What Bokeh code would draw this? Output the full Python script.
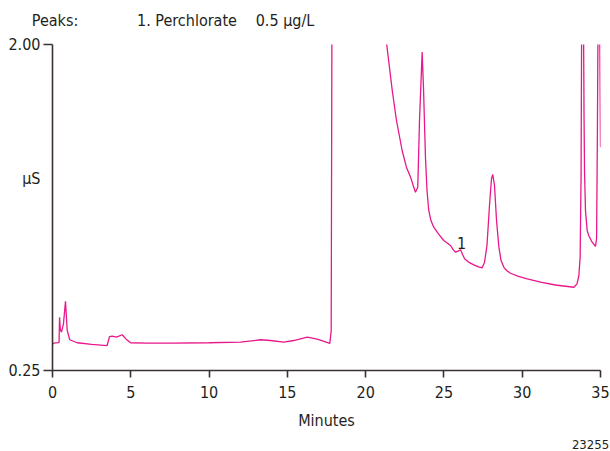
from bokeh.plotting import figure
from bokeh.models import FixedTicker, Range1d, LinearAxis
from bokeh.core.properties import value
from bokeh.embed import file_html
from bokeh.resources import INLINE

FONT = "'Liberation Sans Narrow', 'DejaVu Sans Condensed', 'Roboto Condensed', 'Arial Narrow', Roboto, sans-serif"

# Chromatogram trace (minutes, µS)
minutes = [0.00, 0.08, 0.36, 0.42, 0.45, 0.50, 0.575, 0.70, 0.83, 0.94, 1.10, 1.58,
           2.50, 3.49, 3.64, 3.81, 4.09, 4.45, 4.73, 4.98, 6.00, 7.73, 10.0, 12.01,
           13.29, 13.92, 14.77, 15.41, 16.27, 16.91, 17.71, 17.80, 17.86, 19.5, 21.25,
           21.36, 21.70, 21.97, 22.33, 22.61, 22.87, 23.06, 23.18, 23.33, 23.44, 23.61,
           23.70, 23.82, 23.92, 24.03, 24.17, 24.35, 24.65, 24.99, 25.42, 25.58, 25.74,
           25.90, 26.06, 26.19, 26.32, 26.57, 26.91, 27.21, 27.44, 27.59, 27.75, 27.91,
           28.04, 28.12, 28.23, 28.36, 28.51, 28.65, 28.83, 29.00, 29.25, 29.76, 30.32,
           31.17, 32.12, 33.30, 33.50, 33.62, 33.70, 33.76, 33.80, 33.86, 33.91, 33.95,
           33.98, 34.04, 34.15, 34.25, 34.42, 34.68, 34.75, 34.80, 34.84, 34.90, 34.95,
           35.00]
signal = [0.390, 0.397, 0.400, 0.402, 0.536, 0.470, 0.456, 0.500, 0.622, 0.465, 0.415, 0.399,
          0.390, 0.384, 0.432, 0.434, 0.429, 0.442, 0.416, 0.399, 0.397, 0.397, 0.399, 0.402,
          0.415, 0.411, 0.402, 0.411, 0.429, 0.418, 0.395, 0.465, 2.600, 3.500, 2.150,
          1.990, 1.753, 1.592, 1.431, 1.340, 1.288, 1.238, 1.207, 1.234, 1.592, 1.959,
          1.753, 1.395, 1.216, 1.109, 1.055, 1.019, 0.983, 0.948, 0.921, 0.900, 0.885,
          0.891, 0.898, 0.873, 0.850, 0.832, 0.817, 0.806, 0.801, 0.830, 0.921, 1.136,
          1.281, 1.302, 1.243, 1.055, 0.912, 0.840, 0.804, 0.787, 0.772, 0.755, 0.742,
          0.724, 0.709, 0.697, 0.715, 0.760, 0.860, 1.300, 2.200, 3.000, 2.200, 1.600,
          1.324, 1.109, 1.001, 0.975, 0.945, 0.916, 0.960, 1.500, 2.100, 2.800, 2.100,
          1.449]

x_ticks = [0, 5, 10, 15, 20, 25, 30, 35]
y_ticks = [0.25, 2.00]
y_labels = ["0.25", "2.00"]
y_unit = "µS"
y_unit_at = 1.281

peak_labels = ["1"]
peak_label_x = [26.12]
peak_label_y = [0.937]

header_texts = ["Peaks:", "1. Perchlorate", "0.5 µg/L"]
header_at = [0.16, 8.59, 14.85]
figure_id = "23255"
figure_id_at = 34.36

TEXT = "#231f20"
AXIS = "#3a3132"
LINE = "#e8178a"
FS = "16px"

p = figure(width=610, height=451, output_backend="svg", toolbar_location=None,
           x_range=Range1d(0, 35), y_range=Range1d(0.25, 2.00),
           min_border_left=52, min_border_right=10, min_border_top=44, min_border_bottom=81)
p.outline_line_color = None
p.xgrid.visible = False
p.ygrid.visible = False

p.line(minutes, signal, line_color=LINE, line_width=1.3)
p.text(x=peak_label_x, y=peak_label_y, text=peak_labels, text_font=value(FONT),
       text_font_size=FS, text_color=TEXT, text_align="center", text_baseline="middle")

def style(ax, size=FS):
    ax.axis_line_color = AXIS
    ax.axis_line_width = 1.6
    ax.major_tick_line_color = AXIS
    ax.major_tick_line_width = 1.6
    ax.minor_tick_line_color = AXIS
    ax.minor_tick_line_width = 1.6
    ax.major_tick_in = 0
    ax.minor_tick_in = 0
    ax.minor_tick_out = 0
    ax.major_label_text_font = FONT
    ax.major_label_text_font_size = size
    ax.major_label_text_color = TEXT

xa = p.xaxis[0]
style(xa)
xa.ticker = FixedTicker(ticks=x_ticks, minor_ticks=[])
xa.major_tick_out = 7
xa.major_label_standoff = 8
xa.axis_label = "Minutes"
xa.axis_label_text_font = FONT
xa.axis_label_text_font_size = FS
xa.axis_label_text_font_style = "normal"
xa.axis_label_text_color = TEXT
xa.axis_label_standoff = 10

ya = p.yaxis[0]
style(ya)
ya.ticker = FixedTicker(ticks=y_ticks + [y_unit_at], minor_ticks=y_ticks)
ya.major_label_overrides = {**{t: l for t, l in zip(y_ticks, y_labels)}, y_unit_at: y_unit}
ya.major_tick_out = 0
ya.minor_tick_out = 9
ya.major_label_standoff = 3

# header line as a label-only axis above the frame
top = LinearAxis(ticker=FixedTicker(ticks=header_at, minor_ticks=[]),
                 major_label_overrides={t: s for t, s in zip(header_at, header_texts)})
style(top)
top.axis_line_color = None
top.major_tick_line_color = None
top.major_tick_out = 0
top.major_label_standoff = 15
p.add_layout(top, "above")

# figure number under the x axis
bottom = LinearAxis(ticker=FixedTicker(ticks=[figure_id_at], minor_ticks=[]),
                    major_label_overrides={figure_id_at: figure_id})
style(bottom, "13px")
bottom.axis_line_color = None
bottom.major_tick_line_color = None
bottom.major_tick_out = 0
bottom.major_label_standoff = 7
p.add_layout(bottom, "below")

open("out.html", "w").write(file_html(p, INLINE))
